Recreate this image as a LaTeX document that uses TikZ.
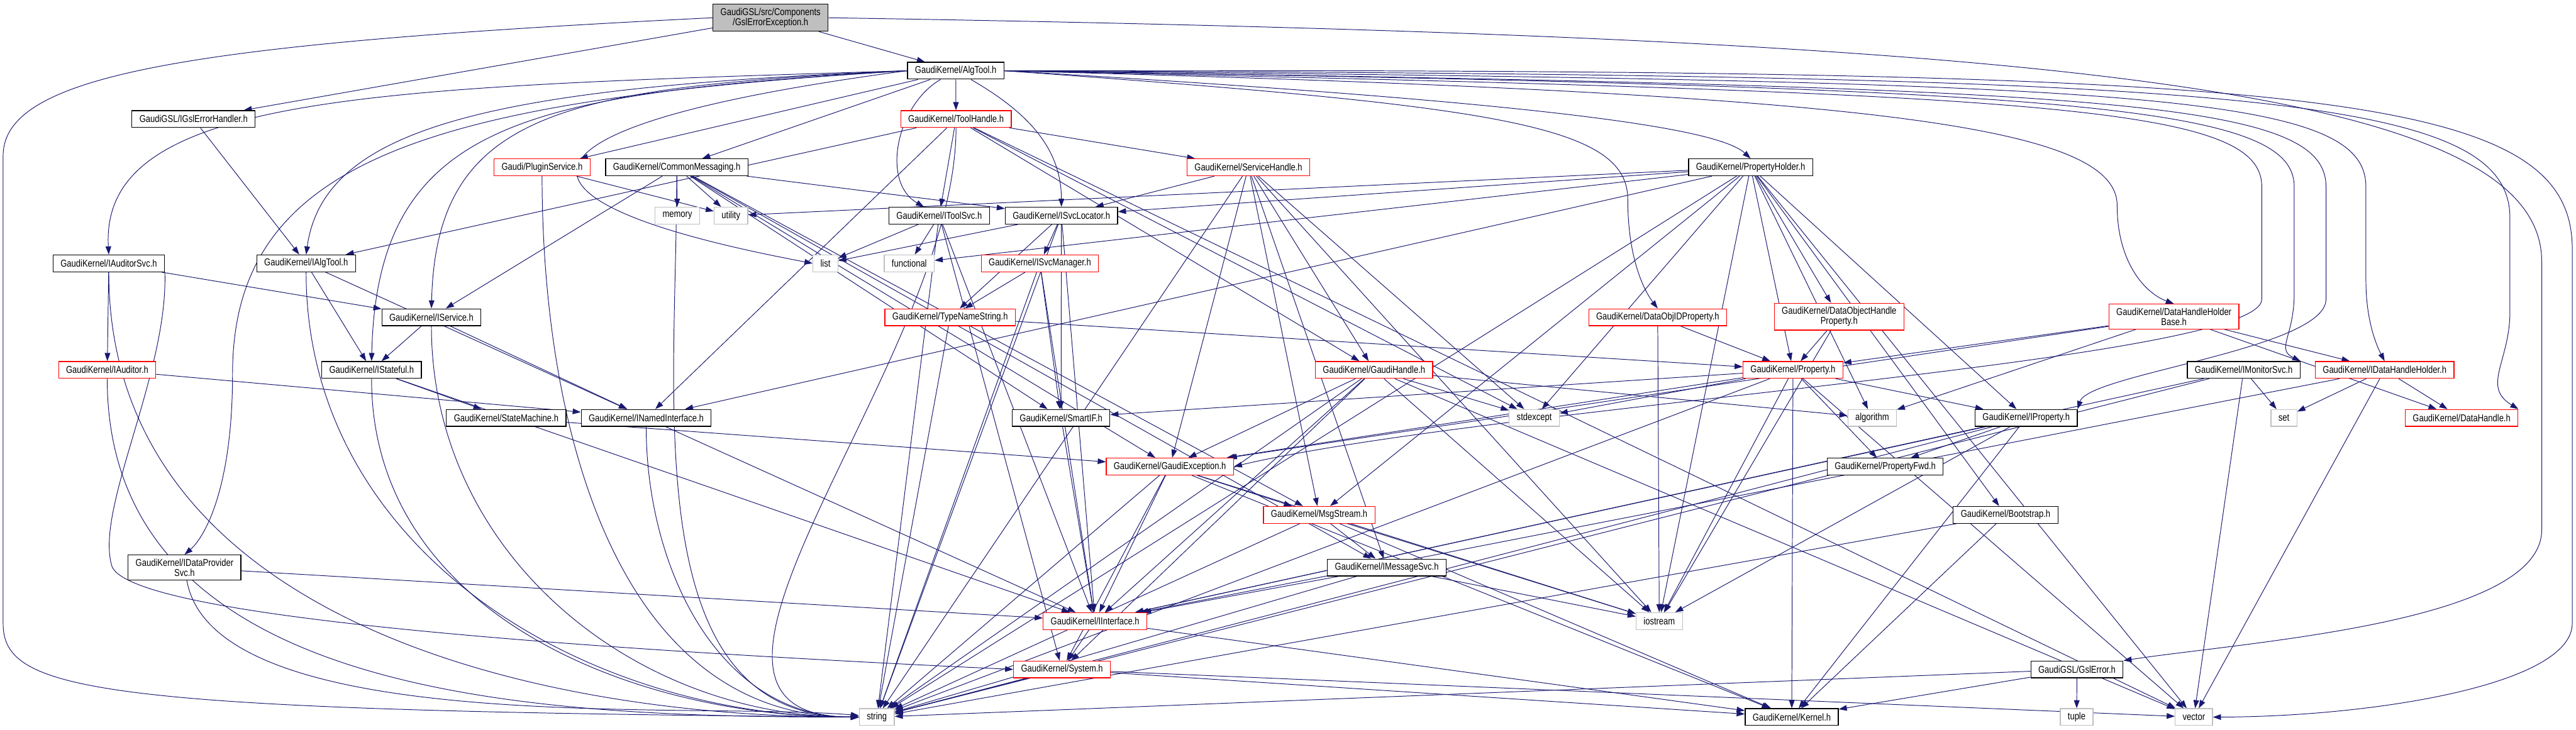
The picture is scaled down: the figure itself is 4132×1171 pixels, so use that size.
\documentclass[tikz,border=0pt]{standalone}
\usepackage{fontspec}
\usetikzlibrary{arrows.meta}
\newfontfamily\doxfont{Liberation Sans}[FakeStretch=0.82]
\newcommand{\doxsize}{\doxfont\fontsize{4.55pt}{4.6pt}\selectfont}
\definecolor{edgeblue}{HTML}{191970}
\definecolor{sysgray}{HTML}{BFBFBF}
\definecolor{rootgray}{HTML}{BFBFBF}
\pgfdeclarelayer{background}
\pgfsetlayers{background,main}

\begin{document}
\begin{tikzpicture}[x=0.01cm, y=-0.01cm,
    hdr/.style={draw=black, fill=white, font=\doxsize, align=center, inner xsep=0.12cm, inner ysep=0.06cm, minimum height=0.27cm, line width=0.35pt},
    hdrred/.style={hdr, draw=red},
    hdrsys/.style={hdr, draw=sysgray},
    hdrroot/.style={hdr, fill=rootgray},
    inc/.style={draw=edgeblue, line width=0.28pt, -{Triangle[length=0.13cm, width=0.09cm]}},
  ]
  \useasboundingbox (0,0) rectangle (4132,1171);

  % headers, row by row
  \node[hdrroot] (gslexc) at (1236,28.5) {GaudiGSL/src/Components\\/GslErrorException.h};
  \node[hdr] (algtool) at (1533,113.5) {GaudiKernel/AlgTool.h};
  \node[hdr] (gslhandler) at (310.5,191) {GaudiGSL/IGslErrorHandler.h};
  \node[hdrred] (toolhandle) at (1533.5,191) {GaudiKernel/ToolHandle.h};
  \node[hdrred] (plugin) at (869.5,268.5) {Gaudi/PluginService.h};
  \node[hdr] (commsg) at (1085.5,268.5) {GaudiKernel/CommonMessaging.h};
  \node[hdrred] (svchandle) at (2002.5,268.5) {GaudiKernel/ServiceHandle.h};
  \node[hdr] (propholder) at (2808,268.5) {GaudiKernel/PropertyHolder.h};
  \node[hdrsys] (memory) at (1086.5,346) {memory};
  \node[hdrsys] (utility) at (1172.5,346) {utility};
  \node[hdr] (itoolsvc) at (1506.5,346) {GaudiKernel/IToolSvc.h};
  \node[hdr] (isvcloc) at (1702.5,346) {GaudiKernel/ISvcLocator.h};
  \node[hdr] (iauditorsvc) at (174.5,422.5) {GaudiKernel/IAuditorSvc.h};
  \node[hdr] (ialgtool) at (491,422.5) {GaudiKernel/IAlgTool.h};
  \node[hdrsys] (list) at (1324,422.5) {list};
  \node[hdrsys] (functional) at (1458.5,422.5) {functional};
  \node[hdrred] (isvcmgr) at (1668,422.5) {GaudiKernel/ISvcManager.h};
  \node[hdr] (iservice) at (692,509) {GaudiKernel/IService.h};
  \node[hdrred] (typename) at (1524,509) {GaudiKernel/TypeNameString.h};
  \node[hdrred] (dataobjid) at (2659,509) {GaudiKernel/DataObjIDProperty.h};
  \node[hdrred] (dohprop) at (2950,508) {GaudiKernel/DataObjectHandle\\Property.h};
  \node[hdrred] (dhhbase) at (3487,508) {GaudiKernel/DataHandleHolder\\Base.h};
  \node[hdrred] (iauditor) at (172,593.5) {GaudiKernel/IAuditor.h};
  \node[hdr] (istateful) at (596,593.5) {GaudiKernel/IStateful.h};
  \node[hdrred] (gaudihandle) at (2204,593.5) {GaudiKernel/GaudiHandle.h};
  \node[hdrred] (property) at (2876,593.5) {GaudiKernel/Property.h};
  \node[hdr] (imonitorsvc) at (3599,593.5) {GaudiKernel/IMonitorSvc.h};
  \node[hdrred] (idhholder) at (3825,593.5) {GaudiKernel/IDataHandleHolder.h};
  \node[hdr] (statemachine) at (812,670.5) {GaudiKernel/StateMachine.h};
  \node[hdr] (inamed) at (1036.5,670.5) {GaudiKernel/INamedInterface.h};
  \node[hdr] (smartif) at (1702,670.5) {GaudiKernel/SmartIF.h};
  \node[hdrsys] (stdexcept) at (2461,670.5) {stdexcept};
  \node[hdrsys] (algorithm) at (3003,670.5) {algorithm};
  \node[hdr] (iproperty) at (3250,670.5) {GaudiKernel/IProperty.h};
  \node[hdrsys] (set) at (3663.5,670.5) {set};
  \node[hdrred] (datahandle) at (3948.5,670.5) {GaudiKernel/DataHandle.h};
  \node[hdrred] (gaudiexc) at (1876.5,748.5) {GaudiKernel/GaudiException.h};
  \node[hdr] (propfwd) at (3024,748.5) {GaudiKernel/PropertyFwd.h};
  \node[hdrred] (msgstream) at (2116,826) {GaudiKernel/MsgStream.h};
  \node[hdr] (bootstrap) at (3217,826) {GaudiKernel/Bootstrap.h};
  \node[hdr] (idataprov) at (296,910.5) {GaudiKernel/IDataProvider\\Svc.h};
  \node[hdr] (imsgsvc) at (2224.5,910.5) {GaudiKernel/IMessageSvc.h};
  \node[hdrred] (iinterface) at (1756.5,996.5) {GaudiKernel/IInterface.h};
  \node[hdrsys] (iostream) at (2661.5,996.5) {iostream};
  \node[hdrred] (system) at (1703.5,1074) {GaudiKernel/System.h};
  \node[hdr] (gslerror) at (3331.5,1074) {GaudiGSL/GslError.h};
  \node[hdrsys] (string) at (1406.5,1150.5) {string};
  \node[hdr] (kernel) at (2874,1150.5) {GaudiKernel/Kernel.h};
  \node[hdrsys] (tuple) at (3331,1150.5) {tuple};
  \node[hdrsys] (vector) at (3519,1150.5) {vector};

  \begin{pgfonlayer}{background}
  % plain includes
  \foreach \s/\t in {gslexc/algtool, gslexc/gslhandler, gslhandler/ialgtool,
      algtool/toolhandle, algtool/commsg, algtool/plugin,
      toolhandle/itoolsvc, toolhandle/svchandle, toolhandle/ialgtool, toolhandle/inamed,
      toolhandle/gaudihandle, toolhandle/stdexcept, toolhandle/vector,
      svchandle/isvcloc, svchandle/gaudihandle, svchandle/gaudiexc, svchandle/msgstream,
      svchandle/imsgsvc, svchandle/stdexcept, svchandle/iostream, svchandle/string,
      commsg/memory, commsg/utility, commsg/iservice, commsg/isvcloc, commsg/smartif,
      commsg/msgstream, commsg/imsgsvc, commsg/gaudiexc, plugin/utility,
      itoolsvc/list, itoolsvc/functional, itoolsvc/iinterface, itoolsvc/system, itoolsvc/string,
      isvcloc/isvcmgr, isvcloc/typename, isvcloc/smartif, isvcloc/iinterface, isvcloc/list, isvcloc/string,
      isvcmgr/typename, isvcmgr/smartif, isvcmgr/iinterface, isvcmgr/string,
      typename/property, typename/string,
      propholder/utility, propholder/functional, propholder/isvcloc, propholder/inamed,
      propholder/algorithm, propholder/stdexcept, propholder/property, propholder/iproperty,
      propholder/dohprop, propholder/msgstream, propholder/bootstrap, propholder/iostream,
      propholder/vector, propholder/string,
      dataobjid/property, dataobjid/iostream, dohprop/property, dohprop/iostream,
      dhhbase/property, dhhbase/idhholder, dhhbase/datahandle, dhhbase/gaudiexc, dhhbase/algorithm,
      iauditorsvc/iauditor, iauditorsvc/iservice, iauditor/inamed,
      ialgtool/istateful, ialgtool/inamed, iservice/istateful, iservice/inamed,
      istateful/statemachine, istateful/iinterface, statemachine/gaudiexc,
      inamed/iinterface, idataprov/iinterface,
      gaudihandle/gaudiexc, gaudihandle/iinterface, gaudihandle/system, gaudihandle/stdexcept,
      gaudihandle/iostream, gaudihandle/algorithm, gaudihandle/string, gaudihandle/vector,
      property/stdexcept, property/iproperty, property/propfwd, property/smartif, property/gaudiexc,
      property/iostream, property/kernel, property/vector, property/string,
      iproperty/propfwd, iproperty/iinterface, iproperty/kernel, iproperty/string, iproperty/iostream,
      gaudiexc/msgstream, gaudiexc/iinterface, gaudiexc/system, gaudiexc/string, gaudiexc/kernel,
      gaudiexc/iostream, msgstream/imsgsvc, msgstream/string, msgstream/iostream, msgstream/kernel,
      imsgsvc/iinterface, imsgsvc/string, imsgsvc/iostream, smartif/iinterface,
      iinterface/system, iinterface/kernel, system/string, system/kernel, system/vector,
      bootstrap/kernel, bootstrap/string, gslerror/tuple, gslerror/string, gslerror/kernel,
      imonitorsvc/set, imonitorsvc/iinterface, imonitorsvc/string, imonitorsvc/vector,
      idhholder/set, idhholder/datahandle, idhholder/vector, idhholder/iinterface}
    \draw[inc] (\s) -- (\t);

  % left-hand headers drop down into string
  \foreach \s in {iauditorsvc, iauditor, ialgtool, iservice, istateful, inamed, plugin, commsg, toolhandle}
    \draw[inc] (\s) to[out=-90, in=180] (string);
  \draw[inc] (idataprov) to[out=-80, in=175, looseness=0.6] (string);
  \draw[inc] (iauditorsvc.south east) .. controls (270,600) and (150,820) .. (180,910)
    .. controls (220,990) and (900,1040) .. (system.west);

  % long detours of the root file
  \draw[inc] (gslexc.west) .. controls (300,70) and (5,120) .. (5,250) -- (5,1000)
    .. controls (5,1110) and (150,1140) .. (string.west);
  \draw[inc] (gslexc.east) .. controls (3300,60) and (4077,140) .. (4077,420) -- (4077,850)
    .. controls (4077,1000) and (3600,1030) .. (gslerror.north east);

  % AlgTool, left side
  \draw[inc] (algtool) to[out=-150, in=150] (itoolsvc);
  \draw[inc] (algtool) to[out=-30, in=90] (isvcloc);
  \draw[inc] (algtool.west) .. controls (600,140) and (160,150) .. (iauditorsvc.north);
  \draw[inc] (algtool.west) .. controls (800,140) and (520,200) .. (ialgtool.north);
  \draw[inc] (algtool.west) .. controls (900,140) and (700,180) .. (iservice.north);
  \draw[inc] (algtool.west) .. controls (850,150) and (605,190) .. (istateful.north);
  \draw[inc] (algtool.west) .. controls (700,160) and (373,250) .. (373,600)
    .. controls (373,780) and (330,860) .. (idataprov.north);
  \draw[inc] (algtool.west) .. controls (800,200) and (760,320) .. (list.west);

  % AlgTool, right side
  \draw[inc] (algtool.east) .. controls (2400,160) and (2750,200) .. (propholder.north);
  \draw[inc] (algtool.east) .. controls (2400,170) and (2611,200) .. (2611,320)
    .. controls (2611,420) and (2640,470) .. (dataobjid.north);
  \draw[inc] (algtool.east) .. controls (3000,150) and (3396,200) .. (3396,330)
    .. controls (3396,420) and (3440,470) .. (dhhbase.north);
  \draw[inc] (algtool.east) .. controls (3300,150) and (3628,170) .. (3628,300) -- (3628,480)
    .. controls (3628,580) and (2400,650) .. (gaudiexc.east);
  \draw[inc] (algtool.east) .. controls (3350,140) and (3680,170) .. (3680,300) -- (3680,470)
    .. controls (3680,540) and (3650,560) .. (imonitorsvc.north east);
  \draw[inc] (algtool.east) .. controls (3400,140) and (3731,160) .. (3731,300) -- (3731,480)
    .. controls (3731,560) and (3350,600) .. (iproperty.north east);
  \draw[inc] (algtool.east) .. controls (3450,130) and (3795,150) .. (3795,300) -- (3795,450)
    .. controls (3795,520) and (3815,560) .. (idhholder.north);
  \draw[inc] (algtool.east) .. controls (3600,120) and (4026,150) .. (4026,350) -- (4026,500)
    .. controls (4026,580) and (3980,620) .. (datahandle.north east);
  \draw[inc] (algtool.east) .. controls (3700,110) and (4126,140) .. (4126,400) -- (4126,1000)
    .. controls (4126,1100) and (3800,1150) .. (vector.east);
  \end{pgfonlayer}
\end{tikzpicture}
\end{document}
